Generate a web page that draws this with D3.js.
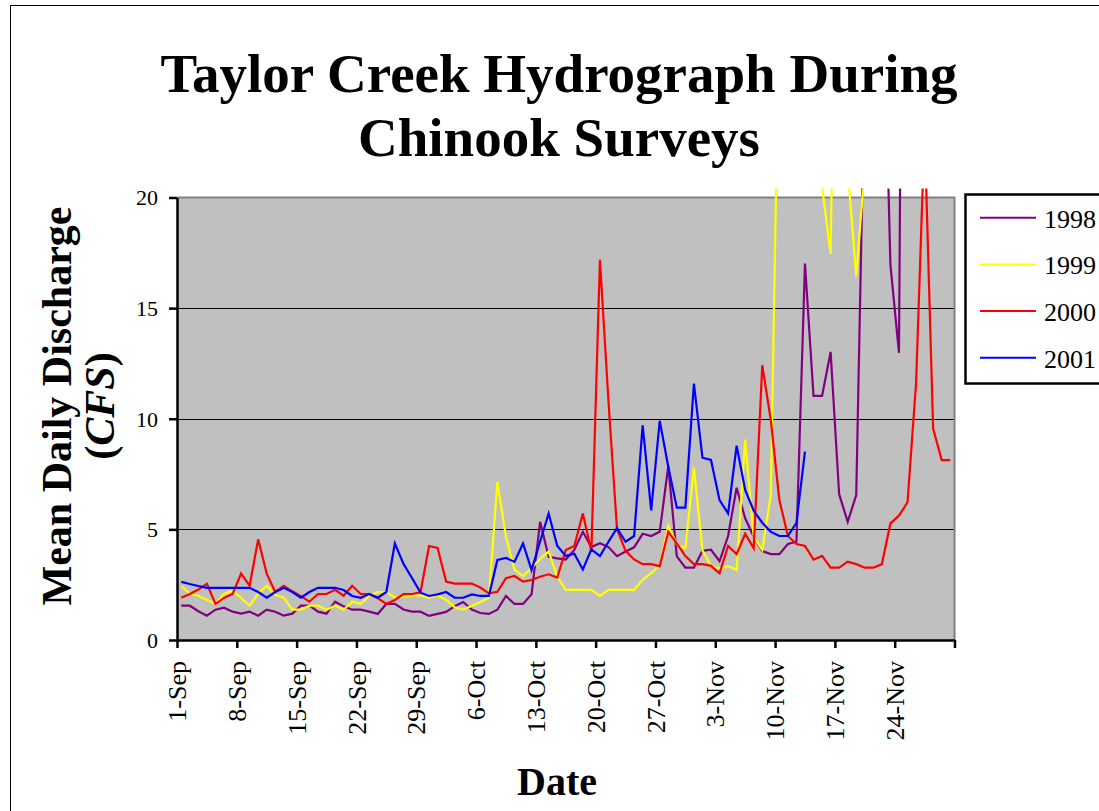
<!DOCTYPE html>
<html>
<head>
<meta charset="utf-8">
<script src="https://cdn.jsdelivr.net/npm/d3@7"></script>
<style>
  body { margin: 0; background: #fff; }
  svg { display: block; }
</style>
</head>
<body>
<svg id="chart" width="1099" height="811"></svg>
<script>
// Mean daily discharge (cfs), one value per day starting 1 September.
const q1998 = [1.55,1.55,1.30,1.10,1.37,1.46,1.28,1.19,1.28,1.10,1.37,1.28,1.10,1.19,1.55,1.55,1.28,1.19,1.73,1.52,
  1.37,1.37,1.28,1.18,1.63,1.63,1.38,1.28,1.28,1.09,1.18,1.27,1.53,1.72,1.38,1.22,1.18,1.37,1.99,1.63,
  1.63,2.07,5.34,3.76,3.69,3.64,4.07,4.89,4.20,4.37,4.20,3.79,4.00,4.19,4.80,4.70,4.89,7.86,3.78,3.27,
  3.27,4.03,4.08,3.56,4.70,6.88,5.50,4.67,4.02,3.88,3.88,4.34,4.44,17.01,11.03,11.03,13.02,6.59,5.34,6.55,
  26.0,35.0,32.0,16.95,12.98,70.0];
const q1999 = [2.45,2.09,2.00,1.81,1.64,2.08,2.24,1.90,1.55,2.10,2.45,2.03,1.91,1.37,1.37,1.55,1.55,1.37,1.55,1.37,
  1.73,1.64,1.99,2.17,2.17,1.91,1.95,1.99,2.02,1.91,2.02,1.81,1.48,1.37,1.55,1.72,1.91,7.15,4.67,3.18,
  2.89,3.25,3.67,4.00,2.86,2.27,2.27,2.27,2.27,1.99,2.27,2.27,2.27,2.27,2.72,3.02,3.36,5.17,4.33,4.14,
  7.80,4.05,3.34,3.24,3.34,3.16,9.06,4.67,4.07,6.55,29.0,38.0,45.0,40.0,30.0,20.5,17.45,42.0,21.3,16.42,
  21.4];
const q2000 = [1.91,2.08,2.28,2.54,1.63,1.90,2.08,3.00,2.45,4.55,3.00,2.17,2.45,2.20,1.98,1.73,2.08,2.08,2.27,2.00,
  2.45,2.08,2.08,1.89,1.63,1.81,2.07,2.08,2.16,4.25,4.16,2.64,2.55,2.55,2.55,2.37,2.11,2.18,2.79,2.89,
  2.64,2.71,2.86,2.97,2.82,4.07,4.25,5.72,4.00,17.19,10.80,5.00,4.03,3.64,3.43,3.43,3.34,4.89,4.37,3.79,
  3.43,3.43,3.35,3.01,4.25,3.88,4.80,4.15,12.42,9.94,6.33,4.70,4.34,4.25,3.63,3.80,3.27,3.27,3.54,3.43,
  3.27,3.27,3.43,5.27,5.62,6.22,11.59,23.0,9.56,8.13,8.13];
const q2001 = [2.63,2.53,2.44,2.36,2.36,2.36,2.36,2.36,2.36,2.17,1.91,2.17,2.36,2.17,1.91,2.17,2.36,2.36,2.36,2.26,
  1.99,1.91,2.08,1.91,2.17,4.37,3.45,2.80,2.14,1.99,2.06,2.17,1.91,1.91,2.06,1.99,1.99,3.62,3.71,3.53,
  4.36,3.16,4.45,5.72,4.26,3.80,3.90,3.19,4.10,3.79,4.44,5.06,4.44,4.70,9.70,5.86,9.91,7.83,5.98,5.98,
  11.59,8.24,8.14,6.32,5.72,8.78,6.78,5.84,5.30,4.89,4.70,4.70,5.30,8.51];

const seriesNames = ["1998", "1999", "2000", "2001"];
const seriesColors = ["#800080", "#FFFF00", "#FF0000", "#0000FF"];
const seriesValues = [q1998, q1999, q2000, q2001];

const tickLabels = ["1-Sep","8-Sep","15-Sep","22-Sep","29-Sep","6-Oct","13-Oct",
  "20-Oct","27-Oct","3-Nov","10-Nov","17-Nov","24-Nov"];
const yTicks = [0, 5, 10, 15, 20];

const FONT = "Liberation Serif";
const svg = d3.select("#chart");
const plot = { left: 177, right: 954.5, top: 197.5, bottom: 640 };

const start = new Date(Date.UTC(2000, 8, 1));
const end = new Date(Date.UTC(2000, 11, 1));
const x = d3.scaleUtc().domain([start, end]).range([plot.left, plot.right]);
const y = d3.scaleLinear().domain([0, 20]).range([plot.bottom, plot.top]);
// each daily value sits in the middle of its day
const dayMid = i => d3.utcHour.offset(d3.utcDay.offset(start, i), 12);

// outer chart frame
svg.append("rect").attr("x", 10.5).attr("y", 5.5).attr("width", 1200).attr("height", 900)
  .attr("fill", "none").attr("stroke", "#000").attr("stroke-width", 1);

// plot background
svg.append("rect").attr("x", plot.left).attr("y", plot.top)
  .attr("width", plot.right - plot.left).attr("height", plot.bottom - plot.top)
  .attr("fill", "#C0C0C0");

// horizontal gridlines
svg.append("g").selectAll("line").data([5, 10, 15]).join("line")
  .attr("x1", plot.left).attr("x2", plot.right)
  .attr("y1", d => Math.round(y(d)) + 0.5).attr("y2", d => Math.round(y(d)) + 0.5)
  .attr("stroke", "#000").attr("stroke-width", 1.2);

// grey frame on top and right
svg.append("path")
  .attr("d", `M${plot.left},${plot.top}H${plot.right}V${plot.bottom}`)
  .attr("fill", "none").attr("stroke", "#808080").attr("stroke-width", 2);

// series lines, clipped a little above the plot top
svg.append("clipPath").attr("id", "clip").append("rect")
  .attr("x", plot.left).attr("y", plot.top - 9)
  .attr("width", plot.right - plot.left).attr("height", plot.bottom - plot.top + 9);

const line = d3.line().x((v, i) => x(dayMid(i))).y(v => y(v));
svg.append("g").attr("clip-path", "url(#clip)")
  .selectAll("path").data(seriesValues).join("path")
  .attr("d", d => line(d))
  .attr("fill", "none")
  .attr("stroke", (d, i) => seriesColors[i])
  .attr("stroke-width", 2.2)
  .attr("stroke-linejoin", "miter");

// x axis
const xTickDates = d3.range(0, 92, 7).map(d => d3.utcDay.offset(start, d));
const xAxis = d3.axisBottom(x).tickValues(xTickDates).tickSize(8).tickSizeOuter(0)
  .tickFormat((d, i) => tickLabels[i] || "");
const gx = svg.append("g").attr("transform", `translate(0,${plot.bottom})`).call(xAxis);
gx.select(".domain").attr("stroke", "#000").attr("stroke-width", 2.5);
gx.selectAll(".tick line").attr("stroke", "#000").attr("stroke-width", 2.5);
gx.selectAll(".tick text")
  .attr("font-family", FONT)
  .attr("font-size", 26)
  .attr("fill", "#000")
  .attr("transform", "rotate(-90)")
  .attr("text-anchor", "end")
  .attr("x", -21).attr("y", 0).attr("dy", "0.33em");

// y axis
const yAxis = d3.axisLeft(y).tickValues(yTicks).tickSize(8).tickSizeOuter(0).tickFormat(d3.format("d"));
const gy = svg.append("g").attr("transform", `translate(${plot.left},0)`).call(yAxis);
gy.select(".domain").attr("stroke", "#000").attr("stroke-width", 2.5);
gy.selectAll(".tick line").attr("stroke", "#000").attr("stroke-width", 2.5);
gy.selectAll(".tick text").attr("font-family", FONT).attr("font-size", 22)
  .attr("fill", "#000").attr("x", -19).attr("dy", "0.33em");

// titles
svg.append("text").attr("x", 559).attr("y", 92).attr("text-anchor", "middle")
  .attr("font-family", FONT).attr("font-size", 55).attr("font-weight", "bold")
  .text("Taylor Creek Hydrograph During");
svg.append("text").attr("x", 559).attr("y", 156).attr("text-anchor", "middle")
  .attr("font-family", FONT).attr("font-size", 55).attr("font-weight", "bold")
  .text("Chinook Surveys");

svg.append("text").attr("x", 557).attr("y", 795).attr("text-anchor", "middle")
  .attr("font-family", FONT).attr("font-size", 40).attr("font-weight", "bold").text("Date");

const yTitle = svg.append("g").attr("transform", "translate(0,406) rotate(-90)");
yTitle.append("text").attr("x", 0).attr("y", 71).attr("text-anchor", "middle")
  .attr("font-family", FONT).attr("font-size", 42).attr("font-weight", "bold")
  .text("Mean Daily Discharge");
const cfs = yTitle.append("text").attr("x", 0).attr("y", 114).attr("text-anchor", "middle")
  .attr("font-family", FONT).attr("font-size", 42).attr("font-weight", "bold");
cfs.append("tspan").text("(");
cfs.append("tspan").attr("font-style", "italic").text("CFS");
cfs.append("tspan").text(")");

// legend
const legend = svg.append("g");
legend.append("rect").attr("x", 965.5).attr("y", 194.5).attr("width", 200).attr("height", 189)
  .attr("fill", "#fff").attr("stroke", "#000").attr("stroke-width", 2.5);
const items = legend.selectAll("g.item").data(seriesNames).join("g")
  .attr("transform", (d, i) => `translate(0,${217.7 + i * 46.7})`);
items.append("line").attr("x1", 980).attr("x2", 1036).attr("y1", 0).attr("y2", 0)
  .attr("stroke", (d, i) => seriesColors[i]).attr("stroke-width", 2);
items.append("text").attr("x", 1044).attr("y", 10)
  .attr("font-family", FONT).attr("font-size", 26).attr("fill", "#000").text(d => d);
</script>
</body>
</html>
